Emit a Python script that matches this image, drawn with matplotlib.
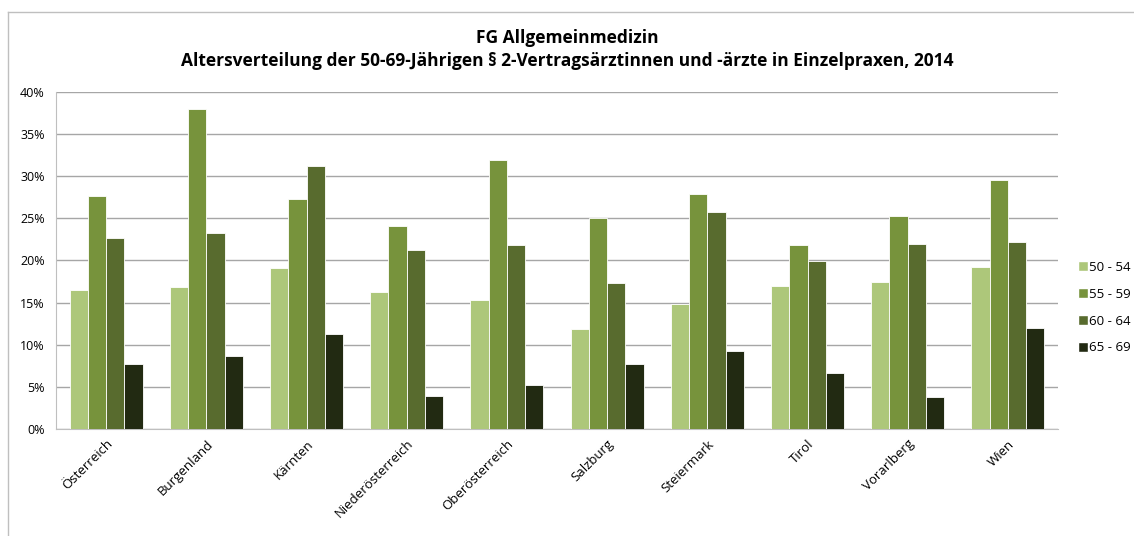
import matplotlib.pyplot as plt
import numpy as np
from matplotlib.lines import Line2D

plt.rcParams['font.family'] = ['Open Sans', 'DejaVu Sans']

# Data (percent)
regions = ['Österreich', 'Burgenland', 'Kärnten', 'Niederösterreich', 'Oberösterreich',
           'Salzburg', 'Steiermark', 'Tirol', 'Vorarlberg', 'Wien']
age_groups = ['50 - 54', '55 - 59', '60 - 64', '65 - 69']
v50_54 = [16.5, 16.8, 19.1, 16.3, 15.3, 11.8, 14.8, 17.0, 17.4, 19.2]
v55_59 = [27.6, 38.0, 27.3, 24.1, 31.9, 25.0, 27.9, 21.8, 25.2, 29.5]
v60_64 = [22.6, 23.3, 31.2, 21.2, 21.8, 17.3, 25.7, 19.9, 21.9, 22.2]
v65_69 = [7.7, 8.7, 11.3, 3.9, 5.2, 7.7, 9.2, 6.6, 3.8, 12.0]
colors = ['#adc77a', '#77933c', '#586b2e', '#222a12']

series = [v50_54, v55_59, v60_64, v65_69]

fig = plt.figure(figsize=(11.34, 5.36), dpi=100)
ax = fig.add_axes([0.0494, 0.1996, 0.8836, 0.6294])

x = np.arange(len(regions))
w = 0.182
for i, vals in enumerate(series):
    ax.bar(x + (i - 1.5) * w, vals, w, color=colors[i], edgecolor='white',
           linewidth=0.6, label=age_groups[i], zorder=3)

ax.set_xlim(-0.5, len(regions) - 0.5)
ax.set_ylim(0, 40)
ax.set_yticks(np.arange(0, 41, 5))
ax.set_yticklabels([f'{t}%' for t in range(0, 41, 5)], fontsize=9)
ax.yaxis.grid(True, color='#a6a6a6', linewidth=1, zorder=0)
ax.set_xticks(x)
ax.set_xticklabels(regions, rotation=45, ha='right', rotation_mode='anchor', fontsize=9.5)
ax.tick_params(axis='both', length=0, pad=8)
ax.tick_params(axis='x', pad=6)
for s in ['top', 'right']:
    ax.spines[s].set_visible(False)
ax.spines['left'].set_color('#bfbfbf')
ax.spines['bottom'].set_color('#bfbfbf')

handles = [Line2D([0], [0], marker='s', linestyle='none', markersize=6.5,
                  markerfacecolor=c, markeredgecolor='white') for c in colors]
fig.legend(handles, age_groups, loc='center left', bbox_to_anchor=(1078 / 1134, 0.426),
           frameon=False, fontsize=9.5, handletextpad=0.1, labelspacing=1.05,
           handlelength=0.7, borderpad=0, borderaxespad=0)

fig.text(0.5, 0.93, 'FG Allgemeinmedizin', ha='center', va='center',
         fontsize=12.5, fontweight='bold')
fig.text(0.5, 0.886, 'Altersverteilung der 50-69-Jährigen § 2-Vertragsärztinnen und -ärzte in Einzelpraxen, 2014',
         ha='center', va='center', fontsize=12.5, fontweight='bold')

# chart frame (cropped at right and bottom)
fig.add_artist(Line2D([8 / 1134, 8 / 1134], [0, 1 - 12 / 536], color='#bfbfbf', linewidth=1))
fig.add_artist(Line2D([8 / 1134, 1], [1 - 12 / 536, 1 - 12 / 536], color='#bfbfbf', linewidth=1))

fig.savefig('out.png', dpi=100)
